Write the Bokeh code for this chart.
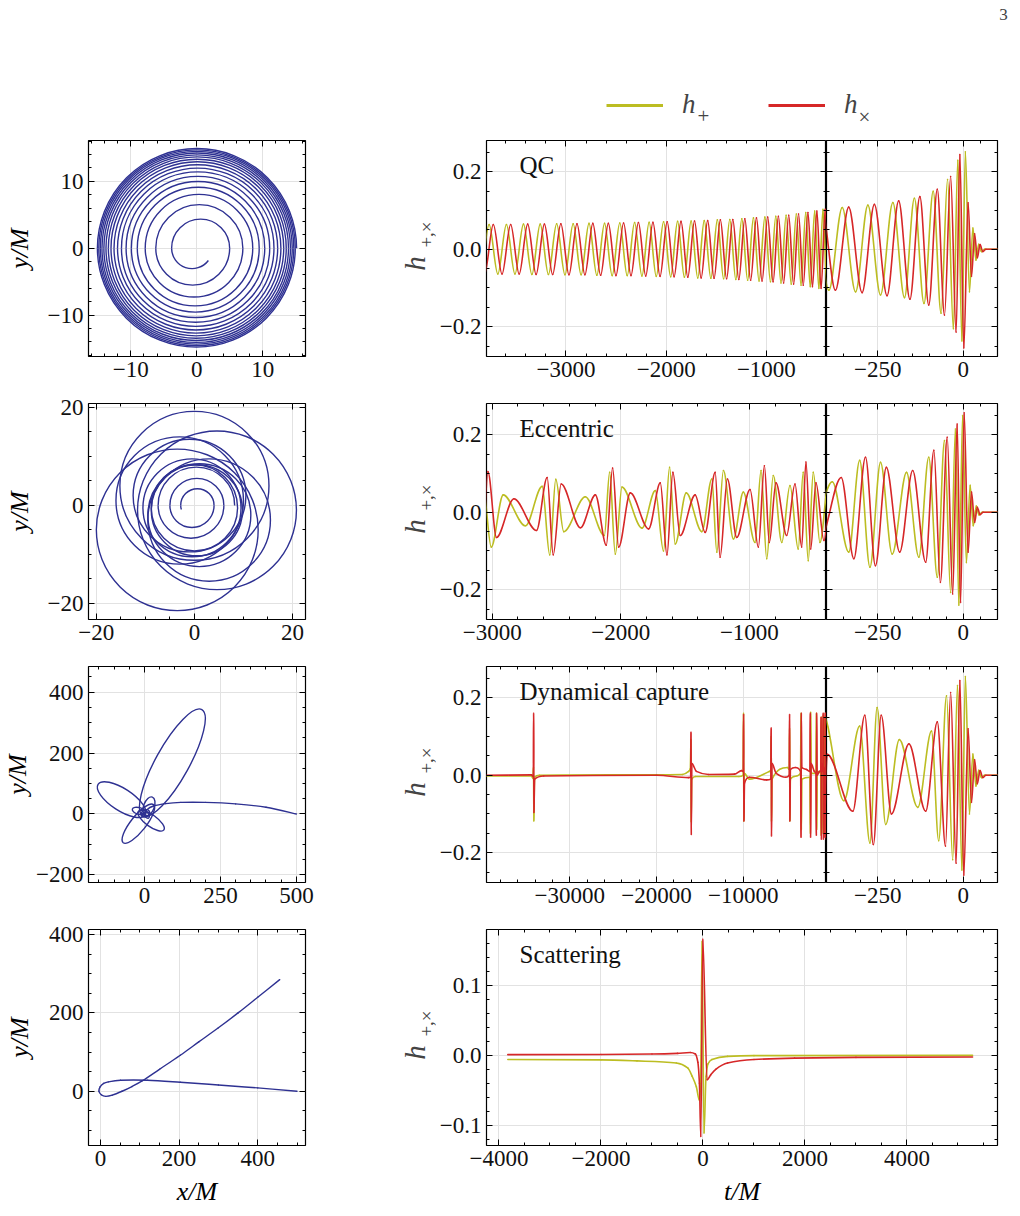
import math
from bokeh.plotting import figure
from bokeh.models import (ColumnDataSource, LinearAxis, SingleIntervalTicker, CustomJSTickFormatter,
                          Label, Legend, LegendItem, Range1d, Grid)
from bokeh.layouts import column, row
from bokeh.embed import file_html
from bokeh.resources import INLINE

FONT = "Liberation Serif"
OLIVE = "#bcbd22"
RED = "#d62728"
ORBIT = "#2e3192"
GRID_COLOR = "#e2e2e2"

# ------------------------------------------------------------------ data
panel_titles = ["QC", "Eccentric", "Dynamical capture", "Scattering"]
legend_labels = ["h", "h"]
legend_subscripts = ["+", "\u00d7"]
page_number = "3"

# Row 1 orbit: radii where the quasi-circular orbit crosses the +x / -x axis
qc_right_cross = [15.15, 14.95, 14.73, 14.49, 14.22, 13.92, 13.58, 13.20, 12.77, 12.28,
                  11.72, 11.07, 10.32, 9.48, 8.50, 7.00, 5.00]
qc_left_cross = [15.05, 14.84, 14.61, 14.36, 14.07, 13.75, 13.39, 12.99, 12.53, 12.00,
                 11.40, 10.70, 9.90, 9.00, 7.80, 6.20, 3.80]
qc_final_cross = 2.4
qc_final_angle_deg = 323

# Row 2 orbit: precessing loops (centre x, centre y, radius) + final plunge crossings
ecc_loop_x = [-3.5, 4.6, 0.0, -3.0, 3.0, -1.0, 1.0, -0.5, 0.5, 0.0]
ecc_loop_y = [-5.0, -1.0, 4.0, 1.0, -3.0, 2.0, -2.0, -0.5, -1.0, -0.5]
ecc_loop_r = [16.5, 16.2, 15.2, 13.0, 12.5, 11.5, 10.5, 10.0, 9.3, 8.8]
ecc_inner_right = [8.2, 6.0, 4.0]
ecc_inner_left = [7.4, 5.0, 2.8]
ecc_final_cross = 2.0
ecc_final_angle_deg = 200

# Row 3 orbit: incoming branch + elliptical loops
cap_in_x = [500, 400, 300, 200, 120, 70, 30, 8, 0]
cap_in_y = [0, 22, 33, 38, 38, 34, 26, 14, 0]
cap_loop_x = [92, -75, -20, 22, 15, -18, 3, 8, -3]
cap_loop_y = [168, 47, -32, -22, 25, 10, 2, -4, -2]
cap_loop_len = [400, 185, 160, 104, 65, 45, 30, 22, 14]
cap_loop_wid = [110, 72, 50, 38, 35, 22, 22, 14, 10]
cap_loop_ang = [61, 147, 51.6, -36, 70, 165, 30, 120, 0]

# Row 4 orbit: scattering trajectory
sc_orbit_x = [500, 400, 300, 203, 120, 51, 20, 8, -1, -4, 2, 13, 30, 55, 80, 107, 150, 203, 250, 300, 350, 400, 456]
sc_orbit_y = [0, 8.5, 16, 23, 28, 28, 24, 20, 11, 0, -9, -13, -10, 0, 12, 27, 56, 92, 126, 162, 200, 240, 285]

# Waveforms: (t/M, h) at turning points
qc_hx = [(-3812,-0.064),(-3725,0.064),(-3638,-0.064),(-3552,0.064),(-3467,-0.064),(-3382,0.065),(-3298,-0.065),(-3215,0.065),(-3133,-0.065),(-3051,0.066),(-2970,-0.066),(-2890,0.066),(-2811,-0.066),(-2732,0.067),(-2654,-0.067),(-2577,0.067),(-2501,-0.068),(-2425,0.068),(-2351,-0.068),(-2277,0.069),(-2204,-0.069),(-2132,0.070),(-2061,-0.070),(-1990,0.071),(-1921,-0.071),(-1852,0.072),(-1784,-0.072),(-1717,0.073),(-1651,-0.074),(-1586,0.074),(-1522,-0.075),(-1459,0.076),(-1397,-0.076),(-1335,0.077),(-1275,-0.078),(-1215,0.079),(-1157,-0.080),(-1099,0.081),(-1043,-0.082),(-987,0.083),(-933,-0.084),(-880,0.085),(-828,-0.087),(-777,0.088),(-728,-0.090),(-679,0.091),(-632,-0.093),(-585,0.095),(-540,-0.097),(-496,0.099),(-454,-0.101),(-413,0.103),(-374,-0.106),(-335,0.109),(-296,-0.112),(-260,0.116),(-223,-0.120),(-189,0.125),(-156,-0.129),(-127,0.136),(-101,-0.144),(-76,0.155),(-55,-0.170),(-37,0.188),(-21,-0.214),(-10,0.245),(1.5,-0.255),(14,0.120),(24,-0.070),(33,0.040),(41,-0.022),(49,0.012),(57,-0.006),(66,0.0),(110,0.0)]
qc_hp = [(-3854,-0.064),(-3767,0.064),(-3680,-0.064),(-3594,0.064),(-3509,-0.064),(-3424,0.065),(-3340,-0.065),(-3257,0.065),(-3175,-0.065),(-3093,0.066),(-3010,-0.066),(-2928,0.066),(-2849,-0.066),(-2770,0.067),(-2692,-0.067),(-2615,0.067),(-2539,-0.068),(-2463,0.068),(-2389,-0.068),(-2315,0.069),(-2242,-0.069),(-2170,0.070),(-2099,-0.070),(-2026,0.071),(-1955,-0.071),(-1886,0.072),(-1818,-0.072),(-1751,0.073),(-1685,-0.074),(-1620,0.074),(-1554,-0.075),(-1489,0.076),(-1427,-0.076),(-1365,0.077),(-1305,-0.078),(-1245,0.079),(-1187,-0.080),(-1129,0.081),(-1073,-0.082),(-1015,0.083),(-959,-0.084),(-906,0.085),(-854,-0.087),(-803,0.088),(-752,-0.090),(-701,0.091),(-654,-0.093),(-607,0.095),(-562,-0.097),(-518,0.099),(-476,-0.101),(-435,0.103),(-393,-0.106),(-354,0.108),(-315,-0.110),(-279,0.114),(-242,-0.118),(-206,0.121),(-172,-0.125),(-143,0.132),(-115,-0.140),(-88,0.150),(-65,-0.165),(-46,0.180),(-29,-0.205),(-16,0.230),(-4,-0.237),(6,0.252),(18,-0.110),(28,0.055),(37,-0.028),(45,0.013),(53,-0.006),(62,0.0),(110,0.0)]

ecc_hx = [(-3070,-0.040),(-3034,0.105),(-2967,-0.065),(-2832,0.035),(-2656,-0.047),(-2573,0.090),(-2526,-0.110),(-2464,0.073),(-2314,-0.040),(-2198,0.045),(-2113,-0.085),(-2064,0.114),(-2017,-0.090),(-1926,0.050),(-1784,-0.043),(-1693,0.076),(-1641,-0.110),(-1595,0.103),(-1538,-0.060),(-1422,0.045),(-1344,-0.052),(-1266,0.103),(-1228,-0.116),(-1171,0.086),(-1098,-0.065),(-995,0.059),(-930,-0.090),(-883,0.120),(-845,-0.078),(-793,0.076),(-710,-0.060),(-645,0.073),(-593,-0.090),(-560,0.130),(-523,-0.095),(-482,0.076),(-420,-0.073),(-357,0.090),(-320,-0.120),(-286,0.142),(-257,-0.138),(-225,0.116),(-186,-0.103),(-148,0.108),(-110,-0.129),(-86,0.160),(-67,-0.181),(-47,0.194),(-31,-0.211),(-18,0.228),(-8,-0.233),(2.5,0.257),(14,-0.103),(24,0.052),(33,-0.026),(41,0.013),(49,-0.006),(58,0.0),(110,0.0)]
ecc_hp = [(-3070,0.060),(-3008,-0.090),(-2915,0.045),(-2742,-0.035),(-2612,0.067),(-2553,-0.110),(-2506,0.085),(-2444,-0.050),(-2276,0.040),(-2128,-0.060),(-2087,0.103),(-2043,-0.108),(-1991,0.065),(-1835,-0.041),(-1732,0.056),(-1668,-0.100),(-1621,0.116),(-1577,-0.082),(-1491,0.050),(-1370,-0.050),(-1292,0.086),(-1253,-0.103),(-1202,0.108),(-1124,-0.069),(-1047,0.052),(-956,-0.078),(-909,0.108),(-865,-0.120),(-814,0.095),(-748,-0.078),(-684,0.069),(-620,-0.095),(-581,0.103),(-542,-0.125),(-503,0.103),(-451,-0.078),(-383,0.079),(-335,-0.103),(-303,0.134),(-273,-0.142),(-242,0.129),(-208,-0.108),(-166,0.103),(-130,-0.116),(-101,0.142),(-76,-0.168),(-55,0.185),(-37,-0.207),(-23,0.215),(-13,-0.240),(-2,0.250),(9,-0.130),(20,0.070),(29,-0.035),(38,0.016),(46,-0.007),(55,0.0),(110,0.0)]

cap_hx = [(-40000,0.0),(-34400,0.001),(-34200,-0.004),(-34165,0.160),(-34135,-0.096),(-34050,-0.010),(-33000,-0.002),(-20000,0.0),(-16300,-0.006),(-16060,-0.004),(-16020,0.111),(-15990,-0.153),(-15920,0.030),(-15400,0.010),(-14000,0.002),(-11000,0.003),(-10200,0.012),(-10000,0.010),(-9955,0.157),(-9925,-0.118),(-9850,-0.020),(-9300,-0.005),(-7300,-0.012),(-6820,-0.010),(-6775,0.122),(-6745,-0.157),(-6680,0.030),(-6200,0.005),(-5100,-0.005),(-4700,0.0),(-4655,0.157),(-4625,-0.118),(-4560,0.015),(-4000,0.020),(-3380,0.010),(-3335,-0.160),(-3305,0.160),(-3240,0.020),(-2700,0.015),(-2310,0.010),(-2265,0.160),(-2235,-0.160),(-2170,0.030),(-1800,0.010),(-1610,0.005),(-1570,-0.155),(-1540,0.160),(-1480,0.0),(-1200,0.010),(-1060,0.010),(-1025,0.150),(-995,-0.165),(-930,0.030),(-810,0.010),(-785,0.160),(-760,-0.165),(-700,0.020),(-595,0.005),(-572,-0.160),(-552,0.160),(-505,0.020),(-430,0.0),(-417,0.160),(-408,-0.165),(-398,0.054),(-323,-0.093),(-288,0.155),(-263,-0.179),(-240,0.155),(-210,-0.100),(-159,0.081),(-110,-0.093),(-76,0.138),(-52,-0.183),(-37,0.214),(-21,-0.227),(-10,0.245),(1.5,-0.258),(14,0.120),(24,-0.070),(33,0.040),(41,-0.022),(49,0.012),(57,-0.006),(66,0.0),(110,0.0)]
cap_hp = [(-40000,-0.002),(-34400,-0.002),(-34250,-0.008),(-34175,0.020),(-34140,-0.118),(-34060,-0.005),(-33500,0.0),(-17000,0.002),(-16300,0.010),(-16100,0.017),(-16030,0.092),(-16000,-0.120),(-15930,-0.010),(-15500,-0.003),(-10500,-0.003),(-10010,0.0),(-9965,0.160),(-9935,-0.118),(-9870,0.005),(-9300,-0.010),(-7000,0.010),(-6810,0.012),(-6770,0.100),(-6745,-0.118),(-6680,-0.010),(-4900,0.020),(-4690,0.015),(-4650,0.120),(-4625,-0.118),(-4560,-0.010),(-3400,0.005),(-3330,0.160),(-3300,-0.140),(-3230,-0.010),(-2310,-0.005),(-2260,-0.150),(-2228,0.163),(-2160,0.005),(-1610,0.005),(-1560,0.160),(-1530,-0.140),(-1470,0.010),(-1060,0.005),(-1020,-0.155),(-990,0.150),(-935,0.0),(-815,0.0),(-790,-0.150),(-765,0.155),(-705,0.0),(-600,0.0),(-575,0.150),(-558,-0.150),(-510,0.0),(-432,0.0),(-418,-0.150),(-411,0.160),(-349,-0.066),(-303,0.127),(-273,-0.175),(-252,0.175),(-227,-0.127),(-187,0.092),(-133,-0.083),(-93,0.114),(-72,-0.169),(-49,0.205),(-31,-0.218),(-17,0.232),(-4,-0.245),(6,0.255),(18,-0.100),(28,0.055),(37,-0.028),(45,0.013),(53,-0.006),(62,0.0),(110,0.0)]

sc_hx = [(-3827,0.001),(-2000,0.0012),(-1000,0.0018),(-500,0.0028),(-250,0.004),(-150,0.002),(-100,-0.010),(-70,-0.040),(-43,-0.116),(-4,0.166),(80,-0.035),(150,-0.028),(250,-0.020),(482,-0.011),(1000,-0.006),(1796,-0.004),(3000,-0.003),(5286,-0.0025)]
sc_hp = [(-3827,-0.006),(-2000,-0.0065),(-1294,-0.008),(-522,-0.011),(-300,-0.018),(-212,-0.030),(-130,-0.045),(-73,-0.064),(-45,-0.040),(-18,0.163),(20,-0.111),(60,-0.030),(100,-0.012),(175,-0.006),(482,-0.0015),(1000,-0.0005),(5286,0.0)]


# ------------------------------------------------------------------ helpers
def pchip_segments(pts):
    xs = [p[0] for p in pts]
    ys = [p[1] for p in pts]
    n = len(xs)
    h = [xs[i + 1] - xs[i] for i in range(n - 1)]
    d = [(ys[i + 1] - ys[i]) / h[i] for i in range(n - 1)]
    m = [0.0] * n
    for i in range(1, n - 1):
        if d[i - 1] * d[i] > 0:
            w1 = 2 * h[i] + h[i - 1]
            w2 = h[i] + 2 * h[i - 1]
            m[i] = (w1 + w2) / (w1 / d[i - 1] + w2 / d[i])
    seg = dict(x0=[], y0=[], x1=[], y1=[], cx0=[], cy0=[], cx1=[], cy1=[])
    for i in range(n - 1):
        seg["x0"].append(xs[i]); seg["y0"].append(ys[i])
        seg["x1"].append(xs[i + 1]); seg["y1"].append(ys[i + 1])
        seg["cx0"].append(xs[i] + h[i] / 3); seg["cy0"].append(ys[i] + m[i] * h[i] / 3)
        seg["cx1"].append(xs[i + 1] - h[i] / 3); seg["cy1"].append(ys[i + 1] - m[i + 1] * h[i] / 3)
    return seg


def catmull_segments(xs, ys):
    n = len(xs)
    seg = dict(x0=[], y0=[], x1=[], y1=[], cx0=[], cy0=[], cx1=[], cy1=[])
    for i in range(n - 1):
        i0 = max(i - 1, 0)
        i3 = min(i + 2, n - 1)
        seg["x0"].append(xs[i]); seg["y0"].append(ys[i])
        seg["x1"].append(xs[i + 1]); seg["y1"].append(ys[i + 1])
        seg["cx0"].append(xs[i] + (xs[i + 1] - xs[i0]) / 6)
        seg["cy0"].append(ys[i] + (ys[i + 1] - ys[i0]) / 6)
        seg["cx1"].append(xs[i + 1] - (xs[i3] - xs[i]) / 6)
        seg["cy1"].append(ys[i + 1] - (ys[i3] - ys[i]) / 6)
    return seg


def spiral_arcs(right, left, final_r, final_deg):
    cx, rr, a0, a1 = [], [], [], []
    for k in range(len(right)):
        cx.append((right[k] - left[k]) / 2); rr.append((right[k] + left[k]) / 2)
        a0.append(0.0); a1.append(math.pi)
        last = k + 1 >= len(right)
        nxt = final_r if last else right[k + 1]
        cx.append((nxt - left[k]) / 2); rr.append((nxt + left[k]) / 2)
        a0.append(math.pi); a1.append(math.radians(final_deg) if last else 2 * math.pi)
    return dict(x=cx, y=[0.0] * len(cx), r=rr, a0=a0, a1=a1)


INT_FMT = CustomJSTickFormatter(code="return Math.round(tick).toString().replace('-', '\\u2212');")
DEC1_FMT = CustomJSTickFormatter(code="var v = Math.abs(tick) < 1e-9 ? 0 : tick; return v.toFixed(1).replace('-', '\\u2212');")
EMPTY_FMT = CustomJSTickFormatter(code="return '';")
TICK_FS = "23px"
AXLAB_FS = "26px"


def make_panel(xr, yr, fw, left, right, bottom, xint, xminor, yint, yminor, xfmt, yfmt,
               label_y=True, xlabel=None, ylabel=None, ylabel_standoff=5):
    p = figure(x_range=Range1d(*xr), y_range=Range1d(*yr), frame_width=fw, frame_height=216,
               min_border_left=left, min_border_right=right, min_border_top=10,
               min_border_bottom=bottom, x_axis_type=None, y_axis_type=None,
               toolbar_location=None, output_backend="svg")
    p.outline_line_color = "black"
    p.outline_line_width = 1.2
    p.border_fill_color = "white"
    labelled = ["below"] + (["left"] if label_y else [])
    for side in ["below", "above", "left", "right"]:
        is_x = side in ("below", "above")
        tk = SingleIntervalTicker(interval=xint if is_x else yint,
                                  num_minor_ticks=xminor if is_x else yminor)
        ax = LinearAxis(ticker=tk)
        ax.axis_line_color = None
        ax.major_tick_in = 6
        ax.major_tick_out = 0
        ax.minor_tick_in = 3
        ax.minor_tick_out = 0
        ax.major_tick_line_color = "black"
        ax.minor_tick_line_color = "black"
        ax.major_tick_line_width = 1
        ax.minor_tick_line_width = 1
        if side in labelled:
            ax.formatter = xfmt if is_x else yfmt
            ax.major_label_text_font = FONT
            ax.major_label_text_font_size = TICK_FS
            ax.major_label_text_color = "#111111"
            ax.major_label_standoff = 5
        else:
            ax.formatter = EMPTY_FMT
            ax.major_label_text_font_size = "0px"
            ax.major_label_standoff = 0
        if side == "below" and xlabel:
            ax.axis_label = xlabel
        if side == "left" and ylabel:
            ax.axis_label = ylabel
            ax.axis_label_standoff = ylabel_standoff
        ax.axis_label_text_font = FONT
        ax.axis_label_text_font_style = "italic"
        ax.axis_label_text_font_size = AXLAB_FS
        ax.axis_label_text_color = "black"
        if side == "below":
            ax.axis_label_standoff = 8
        p.add_layout(ax, side)
    p.add_layout(Grid(dimension=0, ticker=SingleIntervalTicker(interval=xint),
                      grid_line_color=GRID_COLOR, grid_line_width=1))
    p.add_layout(Grid(dimension=1, ticker=SingleIntervalTicker(interval=yint),
                      grid_line_color=GRID_COLOR, grid_line_width=1))
    return p


def label_strip(bottom):
    """Narrow blank panel carrying the rotated h_{+,x} axis label."""
    s = figure(x_range=Range1d(0, 1), y_range=Range1d(0, 1), frame_width=STRIP_W, frame_height=216,
               min_border_left=0, min_border_right=0, min_border_top=10, min_border_bottom=bottom,
               x_axis_type=None, y_axis_type=None, toolbar_location=None, output_backend="svg")
    s.outline_line_color = None
    s.add_layout(Label(x=22, y=93, x_units="screen", y_units="screen", text="h",
                       angle=math.pi / 2, text_font=FONT, text_font_style="italic",
                       text_font_size="29px", text_align="center", text_baseline="middle"))
    s.add_layout(Label(x=34, y=122, x_units="screen", y_units="screen", text="+,\u00d7",
                       angle=math.pi / 2, text_font=FONT, text_font_size="19px",
                       text_align="center", text_baseline="middle"))
    return s


def draw_bezier(p, seg, color, width):
    p.bezier(x0="x0", y0="y0", x1="x1", y1="y1", cx0="cx0", cy0="cy0", cx1="cx1", cy1="cy1",
             source=ColumnDataSource(seg), line_color=color, line_width=width, line_cap="round")


def draw_wave(p, hp, hx):
    draw_bezier(p, pchip_segments(hp), OLIVE, 1.6)
    draw_bezier(p, pchip_segments(hx), RED, 1.6)


def add_title(p, text):
    p.add_layout(Label(x=33, y=191, x_units="screen", y_units="screen", text=text,
                       text_font=FONT, text_font_size="25px", text_align="left",
                       text_baseline="middle", text_color="#111111"))


WAVE_Y = (-0.277, 0.281)
ORB_L, ORB_W, ORB_R = 88, 217, 87
STRIP_W = 44
A_L, A_W = 50, 340
B_W, B_R = 171, 23
FULL_W = 511

# ------------------------------------------------------------------ header
hdr = figure(width=1020, height=130, x_range=Range1d(0, 1), y_range=Range1d(50, 51),
             x_axis_type=None, y_axis_type=None, toolbar_location=None,
             output_backend="svg", min_border=0)
hdr.outline_line_color = None
# legend key renderers use the real h+ / hx samples; they fall outside this blank panel's ranges
r_p = hdr.line(x=[p[0] for p in qc_hp], y=[p[1] for p in qc_hp], line_color=OLIVE, line_width=3)
r_x = hdr.line(x=[p[0] for p in qc_hx], y=[p[1] for p in qc_hx], line_color=RED, line_width=3)
leg = Legend(items=[LegendItem(label=legend_labels[0], renderers=[r_p]),
                    LegendItem(label=legend_labels[1], renderers=[r_x])],
             orientation="horizontal", location=(606, 10), glyph_width=57, glyph_height=26,
             label_height=26, label_standoff=19, spacing=66, padding=0, margin=0,
             border_line_alpha=0, background_fill_alpha=0, label_text_font=FONT,
             label_text_font_style="italic", label_text_font_size="27px")
hdr.add_layout(leg)
hdr.add_layout(Label(x=703, y=15, x_units="screen", y_units="screen", text=legend_subscripts[0],
                     text_font=FONT, text_font_size="21px", text_align="center", text_baseline="middle"))
hdr.add_layout(Label(x=864, y=14, x_units="screen", y_units="screen", text=legend_subscripts[1],
                     text_font=FONT, text_font_size="21px", text_align="center", text_baseline="middle"))
hdr.add_layout(Label(x=1003, y=116, x_units="screen", y_units="screen", text=page_number,
                     text_font=FONT, text_font_size="17px", text_align="center", text_baseline="middle"))

# ------------------------------------------------------------------ row 1
o1 = make_panel((-16.4, 16.5), (-16.2, 16.1), ORB_W, ORB_L, ORB_R, 37, 10, 5, 10, 5,
                INT_FMT, INT_FMT, ylabel="y/M", ylabel_standoff=11)
arcs = ColumnDataSource(spiral_arcs(qc_right_cross, qc_left_cross, qc_final_cross, qc_final_angle_deg))
o1.arc(x="x", y="y", radius="r", start_angle="a0", end_angle="a1", direction="anticlock",
       source=arcs, line_color=ORBIT, line_width=1.4)
a1 = make_panel((-3793, -400), WAVE_Y, A_W, A_L, 0, 37, 1000, 5, 0.2, 4, INT_FMT, DEC1_FMT)
b1 = make_panel((-400, 100), WAVE_Y, B_W, 0, B_R, 37, 250, 5, 0.2, 4, INT_FMT, DEC1_FMT, label_y=False)
for p in (a1, b1):
    draw_wave(p, qc_hp, qc_hx)
add_title(a1, panel_titles[0])

# ------------------------------------------------------------------ row 2
o2 = make_panel((-21.6, 22.65), (-23.3, 20.8), ORB_W, ORB_L, ORB_R, 37, 20, 4, 20, 4,
                INT_FMT, INT_FMT, ylabel="y/M", ylabel_standoff=11)
o2.ellipse(x=ecc_loop_x, y=ecc_loop_y, width=[2 * r for r in ecc_loop_r],
           height=[2 * r for r in ecc_loop_r], fill_color=None, line_color=ORBIT, line_width=1.4)
arcs2 = ColumnDataSource(spiral_arcs(ecc_inner_right, ecc_inner_left, ecc_final_cross, ecc_final_angle_deg))
o2.arc(x="x", y="y", radius="r", start_angle="a0", end_angle="a1", direction="anticlock",
       source=arcs2, line_color=ORBIT, line_width=1.4)
a2 = make_panel((-3045, -400), WAVE_Y, A_W, A_L, 0, 37, 1000, 5, 0.2, 4, INT_FMT, DEC1_FMT)
b2 = make_panel((-400, 100), WAVE_Y, B_W, 0, B_R, 37, 250, 5, 0.2, 4, INT_FMT, DEC1_FMT, label_y=False)
for p in (a2, b2):
    draw_wave(p, ecc_hp, ecc_hx)
add_title(a2, panel_titles[1])

# ------------------------------------------------------------------ row 3
o3 = make_panel((-184, 530), (-225, 484), ORB_W, ORB_L, ORB_R, 37, 250, 5, 200, 4,
                INT_FMT, INT_FMT, ylabel="y/M", ylabel_standoff=1)
draw_bezier(o3, catmull_segments(cap_in_x, cap_in_y), ORBIT, 1.4)
o3.ellipse(x=cap_loop_x, y=cap_loop_y, width=cap_loop_len, height=cap_loop_wid,
           angle=cap_loop_ang, angle_units="deg", fill_color=None, line_color=ORBIT, line_width=1.4)
a3 = make_panel((-39600, -400), WAVE_Y, A_W, A_L, 0, 37, 10000, 5, 0.2, 4, INT_FMT, DEC1_FMT)
b3 = make_panel((-400, 100), WAVE_Y, B_W, 0, B_R, 37, 250, 5, 0.2, 4, INT_FMT, DEC1_FMT, label_y=False)
for p in (a3, b3):
    draw_wave(p, cap_hp, cap_hx)
add_title(a3, panel_titles[2])

# ------------------------------------------------------------------ row 4
o4 = make_panel((-30.5, 521.6), (-138.5, 413), ORB_W, ORB_L, ORB_R, 71, 200, 4, 200, 4,
                INT_FMT, INT_FMT, xlabel="x/M", ylabel="y/M", ylabel_standoff=12)
draw_bezier(o4, catmull_segments(sc_orbit_x, sc_orbit_y), ORBIT, 1.4)
w4 = make_panel((-4245, 5775), (-0.129, 0.18), FULL_W, A_L, B_R, 71, 2000, 4, 0.1, 5,
                INT_FMT, DEC1_FMT, xlabel="t/M")
draw_wave(w4, sc_hp, sc_hx)
add_title(w4, panel_titles[3])

layout = column(hdr,
                row(o1, label_strip(37), a1, b1),
                row(o2, label_strip(37), a2, b2),
                row(o3, label_strip(37), a3, b3),
                row(o4, label_strip(71), w4))
open("out.html", "w").write(file_html(layout, INLINE, "waveforms"))
